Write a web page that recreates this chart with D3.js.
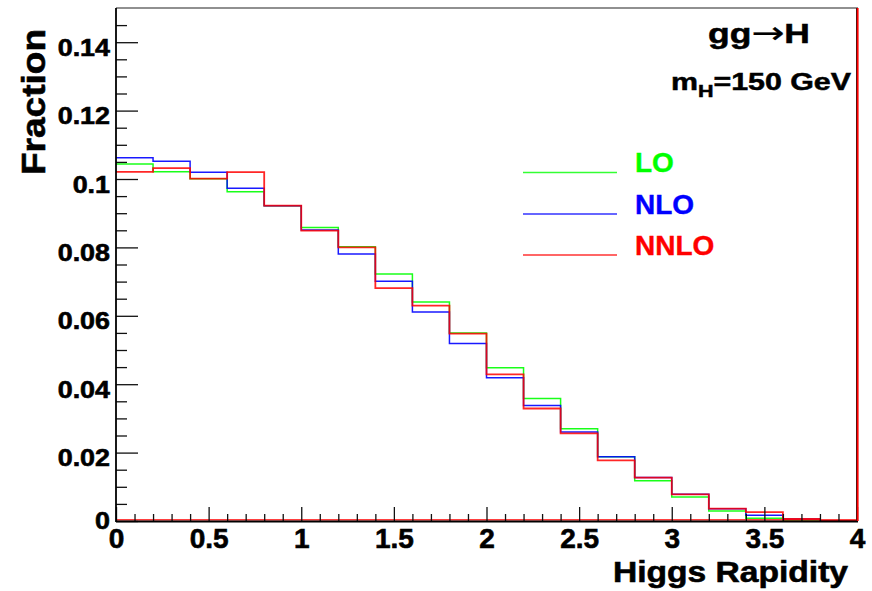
<!DOCTYPE html>
<html>
<head>
<meta charset="utf-8">
<script src="https://cdn.jsdelivr.net/npm/d3@7"></script>
<style>
  body { margin: 0; background: #ffffff; }
  svg { display: block; }
  text { font-family: "Liberation Sans", Arial, Helvetica, sans-serif; font-weight: bold; }
</style>
</head>
<body>
<svg id="chart" width="872" height="591"></svg>
<script>
// Higgs rapidity distribution, gg -> H, m_H = 150 GeV, normalised per 0.2 bin
const binEdges = [0, 0.2, 0.4, 0.6, 0.8, 1.0, 1.2, 1.4, 1.6, 1.8, 2.0,
                  2.2, 2.4, 2.6, 2.8, 3.0, 3.2, 3.4, 3.6, 3.8, 4.0];

const loValues   = [0.1044, 0.1021, 0.1001, 0.0963, 0.0922, 0.0858, 0.0802, 0.0722, 0.0640, 0.0550,
                    0.0448, 0.0358, 0.0270, 0.0188, 0.0118, 0.0070, 0.0029, 0.0008, 0.0000, 0.0000];
const nloValues  = [0.1062, 0.1052, 0.1020, 0.0973, 0.0922, 0.0851, 0.0781, 0.0701, 0.0611, 0.0519,
                    0.0419, 0.0338, 0.0260, 0.0188, 0.0127, 0.0078, 0.0036, 0.0017, 0.0006, 0.0000];
const nnloValues = [0.1021, 0.1032, 0.1001, 0.1020, 0.0922, 0.0849, 0.0800, 0.0681, 0.0630, 0.0548,
                    0.0429, 0.0329, 0.0256, 0.0177, 0.0127, 0.0078, 0.0036, 0.0026, 0.0006, 0.0000];

const seriesNames  = ["LO", "NLO", "NNLO"];
const seriesColors = ["#00ff00", "#0000ff", "#ff0000"];

const xTickValues = [0, 0.5, 1, 1.5, 2, 2.5, 3, 3.5, 4];
const xTickLabels = ["0", "0.5", "1", "1.5", "2", "2.5", "3", "3.5", "4"];
const yTickValues = [0, 0.02, 0.04, 0.06, 0.08, 0.1, 0.12, 0.14];
const yTickLabels = ["0", "0.02", "0.04", "0.06", "0.08", "0.1", "0.12", "0.14"];

const xTitle = "Higgs Rapidity";
const yTitle = "Fraction";

// ---- layout ----
const frame = { left: 116, right: 857, top: 8, bottom: 521 };

const svg = d3.select("#chart");

const x = d3.scaleLinear().domain([0, 4]).range([frame.left, frame.right]);
const y = d3.scaleLinear().domain([0, 0.15]).range([frame.bottom, frame.top]);

svg.append("defs").append("clipPath").attr("id", "plotClip")
  .append("rect")
  .attr("x", frame.left).attr("y", frame.top)
  .attr("width", frame.right - frame.left + 2)
  .attr("height", frame.bottom - frame.top);

// ---- histograms ----
const seriesValues = [loValues, nloValues, nnloValues];
const stepLine = d3.line()
  .x(d => x(d[0]))
  .y(d => y(d[1]))
  .curve(d3.curveStepAfter);

const histLayer = svg.append("g").attr("clip-path", "url(#plotClip)");

seriesValues.forEach((vals, i) => {
  const pts = vals.map((v, k) => [binEdges[k], v]);
  pts.push([binEdges[binEdges.length - 1], vals[vals.length - 1]]);
  histLayer.append("path")
    .attr("d", stepLine(pts))
    .attr("fill", "none")
    .attr("stroke", seriesColors[i])
    .attr("stroke-width", i === 2 ? 1.8 : 1.5)
    .attr("stroke-opacity", i === 2 ? 0.85 : 0.9);
});

// NNLO baseline along zero
histLayer.append("line")
  .attr("x1", x(0)).attr("x2", x(4))
  .attr("y1", y(0) - 1.2).attr("y2", y(0) - 1.2)
  .attr("stroke", "#ff0000").attr("stroke-width", 1.2);

// ---- axes (ticks drawn inward) ----
const xMinor = d3.range(0, 4.0001, 0.1).filter(v => Math.abs(v * 2 - Math.round(v * 2)) > 1e-6);
const yMinor = d3.range(0, 0.1451, 0.005).filter(v => Math.abs(v / 0.02 - Math.round(v / 0.02)) > 1e-6);

const xAxisMinor = svg.append("g")
  .attr("transform", `translate(0,${frame.bottom})`)
  .call(d3.axisBottom(x).tickValues(xMinor).tickSize(-7).tickFormat(""));
const xAxisMajor = svg.append("g")
  .attr("transform", `translate(0,${frame.bottom})`)
  .call(d3.axisBottom(x).tickValues(xTickValues).tickSize(-14).tickPadding(7)
        .tickFormat((d, i) => xTickLabels[i]));

const yAxisMinor = svg.append("g")
  .attr("transform", `translate(${frame.left},0)`)
  .call(d3.axisLeft(y).tickValues(yMinor).tickSize(-11).tickFormat(""));
const yAxisMajor = svg.append("g")
  .attr("transform", `translate(${frame.left},0)`)
  .call(d3.axisLeft(y).tickValues(yTickValues).tickSize(-22).tickPadding(6)
        .tickFormat((d, i) => yTickLabels[i]));

[xAxisMinor, xAxisMajor, yAxisMinor, yAxisMajor].forEach(g => {
  g.select(".domain").remove();
  g.selectAll(".tick line").attr("stroke", "#111").attr("stroke-width", 1.3);
});

xAxisMajor.selectAll(".tick text")
  .attr("font-size", 28)
  .attr("fill", "#000")
  .attr("stroke", "#000").attr("stroke-width", 0.6);

yAxisMajor.selectAll(".tick text")
  .attr("font-size", 24)
  .attr("fill", "#000")
  .attr("stroke", "#000").attr("stroke-width", 0.6)
  .attr("x", null)
  .attr("dy", null)
  .attr("y", d => (d === 0 ? 7 : 13))
  .attr("transform", "translate(-6,0) scale(1.12,1)");

// ---- frame ----
const frameG = svg.append("g").attr("fill", "none");
frameG.append("line")
  .attr("x1", frame.left).attr("x2", frame.right + 1)
  .attr("y1", frame.top).attr("y2", frame.top)
  .attr("stroke", "#222").attr("stroke-width", 1.2);
frameG.append("line")
  .attr("x1", frame.left).attr("x2", frame.left)
  .attr("y1", frame.top).attr("y2", frame.bottom + 1)
  .attr("stroke", "#000").attr("stroke-width", 1.8);
frameG.append("line")
  .attr("x1", frame.left).attr("x2", frame.right + 1)
  .attr("y1", frame.bottom + 0.5).attr("y2", frame.bottom + 0.5)
  .attr("stroke", "#000").attr("stroke-width", 1.8);
frameG.append("line")
  .attr("x1", x(4) - 0.5).attr("x2", x(4) - 0.5)
  .attr("y1", frame.top).attr("y2", frame.bottom)
  .attr("stroke", "#5a1010").attr("stroke-width", 1);
frameG.append("line")
  .attr("x1", x(4) + 0.8).attr("x2", x(4) + 0.8)
  .attr("y1", y(0.15)).attr("y2", y(0))
  .attr("stroke", "#ff0000").attr("stroke-width", 1.6);

// ---- axis titles ----
svg.append("text")
  .attr("x", 848).attr("y", 582)
  .attr("text-anchor", "end")
  .attr("font-size", 30)
  .attr("stroke", "#000").attr("stroke-width", 0.6)
  .attr("textLength", 235).attr("lengthAdjust", "spacingAndGlyphs")
  .text(xTitle);

svg.append("text")
  .attr("transform", "translate(45,102) rotate(-90)")
  .attr("text-anchor", "middle")
  .attr("font-size", 34)
  .attr("stroke", "#000").attr("stroke-width", 0.6)
  .attr("textLength", 146).attr("lengthAdjust", "spacingAndGlyphs")
  .text(yTitle);

// ---- process labels ----
const procLabel = svg.append("text")
  .attr("x", 708).attr("y", 43)
  .attr("font-size", 27)
  .attr("stroke", "#000").attr("stroke-width", 0.5)
  .attr("textLength", 102).attr("lengthAdjust", "spacingAndGlyphs");
procLabel.append("tspan").text("gg");
procLabel.append("tspan")
  .style("font-family", "'DejaVu Sans', sans-serif")
  .style("font-weight", "normal")
  .attr("font-size", 30)
  .attr("stroke-width", 0.3)
  .text("\u2192");
procLabel.append("tspan").text("H");

const massLabel = svg.append("text")
  .attr("x", 671).attr("y", 90)
  .attr("font-size", 24)
  .attr("stroke", "#000").attr("stroke-width", 0.5)
  .attr("textLength", 180).attr("lengthAdjust", "spacingAndGlyphs");
massLabel.append("tspan").text("m");
massLabel.append("tspan").attr("dy", 7).attr("font-size", 17).text("H");
massLabel.append("tspan").attr("dy", -7).text("=150 GeV");

// ---- legend ----
const legendY = [172.5, 214, 255];
const legend = svg.append("g");
seriesNames.forEach((name, i) => {
  legend.append("line")
    .attr("x1", 523).attr("x2", 617)
    .attr("y1", legendY[i]).attr("y2", legendY[i])
    .attr("stroke", seriesColors[i])
    .attr("stroke-width", 1.4)
    .attr("stroke-opacity", 0.8);
  legend.append("text")
    .attr("x", 635).attr("y", legendY[i] - 0.5)
    .attr("font-size", 28)
    .attr("fill", seriesColors[i])
    .attr("stroke", seriesColors[i]).attr("stroke-width", 0.4)
    .text(name);
});
</script>
</body>
</html>
